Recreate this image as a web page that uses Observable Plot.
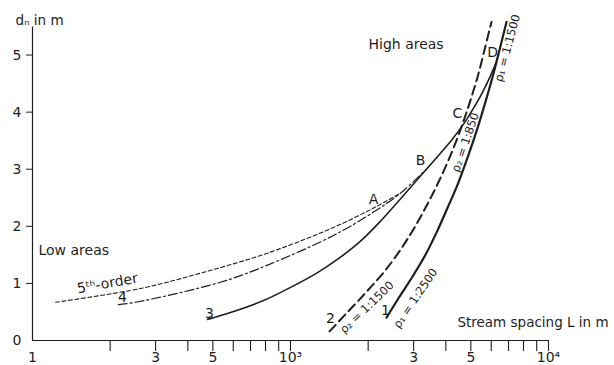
<!DOCTYPE html>
<html>
<head>
<meta charset="utf-8">
<script src="https://cdn.jsdelivr.net/npm/d3@7"></script>
<script src="https://cdn.jsdelivr.net/npm/@observablehq/plot@0.6"></script>
<style>
  html, body { margin: 0; padding: 0; background: #fff; }
  #chart svg { display: block; }
</style>
</head>
<body>
<div id="chart"></div>
<script>
// ---- Data ----
// Curve 1 (rho1, solid thick)
const curve1L = [2356, 2622, 2944, 3307, 3681, 4059, 4479, 4897, 5306, 5698, 6066, 6458, 6875];
const curve1D = [0.40, 0.74, 1.09, 1.47, 1.89, 2.32, 2.77, 3.25, 3.72, 4.18, 4.61, 5.09, 5.58];
// Curve 2 (rho2, dashed thick)
const curve2L = [1416, 1494, 1634, 1818, 2042, 2313, 2622, 2944, 3277, 3615, 3989, 4361, 4683, 4985, 5306, 5648, 6013];
const curve2D = [0.16, 0.27, 0.46, 0.68, 0.93, 1.21, 1.54, 1.89, 2.26, 2.63, 3.04, 3.46, 3.84, 4.21, 4.61, 5.09, 5.58];
// Curve 3 (solid, through B, C to D)
const curve3L = [477, 585, 786, 1000, 1273, 1562, 1868, 2233, 2598, 2997, 3396, 3814, 4246, 4683, 5074, 5451, 5854, 6285];
const curve3D = [0.37, 0.49, 0.70, 0.93, 1.19, 1.46, 1.74, 2.09, 2.42, 2.74, 3.02, 3.28, 3.53, 3.79, 4.04, 4.28, 4.56, 4.88];
// Curve 4 (dash-dot)
const curve4L = [215, 251, 535, 814, 1468, 2098, 2669, 3396];
const curve4D = [0.63, 0.67, 1.02, 1.32, 1.84, 2.25, 2.58, 3.02];
// 5th order (short dashes)
const curve5L = [123, 262, 448, 814, 1468, 2098, 2669];
const curve5D = [0.67, 0.91, 1.18, 1.53, 1.98, 2.32, 2.58];

// Axis ticks
const xMinorTicks = [200, 300, 400, 500, 600, 700, 800, 900, 1000,
                     2000, 3000, 4000, 5000, 6000, 7000, 8000, 9000, 10000];
const xLabelValues = [100, 300, 500, 1000, 3000, 5000, 10000];
const xLabelTexts = ["1", "3", "5", "10³", "3", "5", "10⁴"];
const yTicks = [1, 2, 3, 4, 5];

// Annotation labels: text, L, d
const pointLabels = ["A", "B", "C", "D"];
const pointL = [2098, 3192, 4436, 6068];
const pointD = [2.47, 3.16, 3.98, 5.05];

const curveNums = ["1", "2", "3", "4"];
const curveNumL = [2334, 1429, 485, 223];
const curveNumD = [0.53, 0.39, 0.47, 0.75];

const rhoTexts = ["ρ₂ = 1:1500", "ρ₁ = 1:2500", "ρ₂ = 1:850", "ρ₁ = 1:1500"];
const rhoL = [1979, 3051, 4766, 6937];
const rhoD = [0.58, 0.74, 3.47, 5.12];
const rhoAngle = [-44, -56, -71, -75];

const toRows = (L, D) => L.map((l, i) => ({L: l, d: D[i]}));
const ink = "#1e1e1e";

const chart = Plot.plot({
  width: 614,
  height: 365,
  marginLeft: 32,
  marginRight: 66,
  marginTop: 26,
  marginBottom: 25,
  x: {type: "log", domain: [100, 10000], label: null},
  y: {domain: [0, 5.5], label: null},
  style: {fontFamily: "DejaVu Sans, sans-serif", fontSize: "14px", color: ink, background: "#fff"},
  marks: [
    // axis lines
    Plot.ruleY([0], {x1: 100, x2: 10000, stroke: ink, strokeWidth: 1.2}),
    Plot.ruleX([100], {y1: 0, y2: 5.49, stroke: ink, strokeWidth: 1.2}),
    Plot.axisX({ticks: xMinorTicks, tickSize: 11, tickFormat: () => "", stroke: ink, strokeWidth: 1.1}),
    Plot.axisX({ticks: xLabelValues, tickSize: 0, tickPadding: 12,
      tickFormat: d => xLabelTexts[xLabelValues.indexOf(d)], fontSize: 14}),
    Plot.axisY({ticks: yTicks, tickSize: 6, tickPadding: 5, tickFormat: d => String(d), stroke: ink, fontSize: 14}),
    Plot.axisY({ticks: [0], tickSize: 0, tickPadding: 11, tickFormat: d => String(d), fontSize: 14}),

    // curves
    Plot.line(toRows(curve5L, curve5D), {x: "L", y: "d", curve: "catmull-rom", stroke: ink, strokeWidth: 1.1, strokeDasharray: "4,2.5"}),
    Plot.line(toRows(curve4L, curve4D), {x: "L", y: "d", curve: "catmull-rom", stroke: ink, strokeWidth: 1.2, strokeDasharray: "9,3,2,3"}),
    Plot.line(toRows(curve3L, curve3D), {x: "L", y: "d", curve: "catmull-rom", stroke: ink, strokeWidth: 1.6}),
    Plot.line(toRows(curve2L, curve2D), {x: "L", y: "d", curve: "catmull-rom", stroke: ink, strokeWidth: 2, strokeDasharray: "9,5"}),
    Plot.line(toRows(curve1L, curve1D), {x: "L", y: "d", curve: "catmull-rom", stroke: ink, strokeWidth: 2.2}),

    // labels
    Plot.text(pointLabels, {x: (d, i) => pointL[i], y: (d, i) => pointD[i], text: d => d, fontSize: 14, fill: ink}),
    Plot.text(curveNums, {x: (d, i) => curveNumL[i], y: (d, i) => curveNumD[i], text: d => d, fontSize: 14, fill: ink}),
    Plot.text(rhoTexts, {x: (d, i) => rhoL[i], y: (d, i) => rhoD[i], text: d => d, rotate: (d, i) => rhoAngle[i], fontSize: 11.5, fill: ink}),
    Plot.text(["5ᵗʰ-order"], {x: 195, y: 1.0, text: d => d, rotate: -10, fontSize: 14, fill: ink}),
    Plot.text(["High areas"], {x: 2006, y: 5.18, text: d => d, textAnchor: "start", fontSize: 14, fill: ink}),
    Plot.text(["Low areas"], {x: 105.5, y: 1.58, text: d => d, textAnchor: "start", fontSize: 14, fill: ink}),
    Plot.text(["Stream spacing L in m"], {x: 4436, y: 0.32, text: d => d, textAnchor: "start", fontSize: 13.5, fill: ink}),
    Plot.text(["dₙ in m"], {x: 86, y: 5.61, text: d => d, textAnchor: "start", fontSize: 13.5, fill: ink})
  ]
});
document.getElementById("chart").appendChild(chart);
</script>
</body>
</html>
